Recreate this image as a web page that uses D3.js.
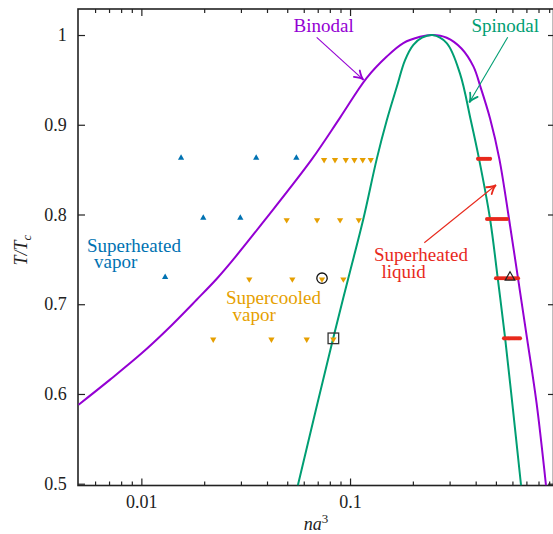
<!DOCTYPE html>
<html><head><meta charset="utf-8">
<script src="https://cdn.jsdelivr.net/npm/d3@7"></script>
<style>body{margin:0;background:#fff}svg{display:block}</style>
</head><body><svg id="c" width="553" height="534"></svg>
<script>
// ---- data ----
const binodalX = [0.005, 0.00708, 0.01, 0.0132, 0.0184, 0.0231, 0.0276, 0.0391, 0.0658, 0.0896, 0.120, 0.150, 0.180, 0.2165, 0.248,
                  0.2906, 0.342, 0.390, 0.4220, 0.4688, 0.5193, 0.578, 0.638, 0.705, 0.783, 0.869];
const binodalT = [0.588, 0.616, 0.645, 0.671, 0.705, 0.729, 0.750, 0.794, 0.862, 0.908, 0.952, 0.976, 0.991, 0.998, 1.0,
                  0.997, 0.985, 0.965, 0.942, 0.907, 0.862, 0.795, 0.729, 0.662, 0.590, 0.498];
const spinodalX = [0.0562, 0.0692, 0.0832, 0.0981, 0.1158, 0.1343, 0.150, 0.1674, 0.1835, 0.2011, 0.2213, 0.248,
                   0.2906, 0.3365, 0.379, 0.4151, 0.4688, 0.5102, 0.553, 0.604, 0.660];
const spinodalT = [0.498, 0.586, 0.663, 0.729, 0.795, 0.862, 0.905, 0.942, 0.972, 0.989, 0.997, 1.0,
                   0.991, 0.957, 0.905, 0.862, 0.795, 0.729, 0.663, 0.582, 0.498];

const vaporHotX = [0.0155, 0.0355, 0.0553, 0.0198, 0.0298, 0.0130];
const vaporHotT = [0.862, 0.862, 0.862, 0.795, 0.795, 0.729];
const vaporCoolX = [0.0751, 0.0847, 0.0954, 0.1049, 0.1150, 0.1257,
                    0.0497, 0.0695, 0.0896, 0.1101,
                    0.0329, 0.0529, 0.0734, 0.0929,
                    0.0221, 0.0420, 0.0620, 0.0832];
const vaporCoolT = [0.862, 0.862, 0.862, 0.862, 0.862, 0.862,
                    0.795, 0.795, 0.795, 0.795,
                    0.729, 0.729, 0.729, 0.729,
                    0.662, 0.662, 0.662, 0.662];
const liquidHotX = [0.4105, 0.4197, 0.4290, 0.4386, 0.4483, 0.4584, 0.4688,
                    0.4535, 0.4634, 0.4737, 0.4843, 0.4951, 0.5062, 0.5174, 0.5290, 0.5408, 0.5529, 0.5652,
                    0.5006, 0.5118, 0.5232, 0.5349, 0.5468, 0.5590, 0.5715, 0.5843, 0.5972, 0.6106, 0.6242, 0.6383,
                    0.5468, 0.5590, 0.5715, 0.5843, 0.5972, 0.6106, 0.6242, 0.6383, 0.6525];
const liquidHotT = [0.862, 0.862, 0.862, 0.862, 0.862, 0.862, 0.862,
                    0.795, 0.795, 0.795, 0.795, 0.795, 0.795, 0.795, 0.795, 0.795, 0.795, 0.795,
                    0.729, 0.729, 0.729, 0.729, 0.729, 0.729, 0.729, 0.729, 0.729, 0.729, 0.729, 0.729,
                    0.662, 0.662, 0.662, 0.662, 0.662, 0.662, 0.662, 0.662, 0.662];
const circlePt = [0.0734, 0.729];
const squarePt = [0.0832, 0.662];
const trianglePt = [0.5843, 0.730];

const xMajor = [0.01, 0.1];
const xMinor = [0.006, 0.007, 0.008, 0.009, 0.02, 0.03, 0.04, 0.05, 0.06, 0.07, 0.08, 0.09,
                0.2, 0.3, 0.4, 0.5, 0.6, 0.7, 0.8, 0.9];
const yTicks = [0.5, 0.6, 0.7, 0.8, 0.9, 1];

// ---- layout ----
const L = 78, R = 553.5, T = 9, B = 485.5;
const svg = d3.select("#c");
const x = d3.scaleLog().domain([0.00497, 0.944]).range([L, R]);
const y = d3.scaleLinear().domain([0.498, 1.029]).range([B, T]);
const FONT = "'Liberation Serif', 'DejaVu Serif', serif";
const C = {purple: "#9400D3", green: "#009E73", blue: "#0072B2", orange: "#E69F00", red: "#E8291C"};

svg.append("defs").append("clipPath").attr("id", "clip")
  .append("rect").attr("x", L).attr("y", T).attr("width", R - L).attr("height", B - T);

// ---- axes ----
function styleAxis(g) {
  g.select(".domain").remove();
  g.selectAll("line").attr("stroke", "#222").attr("stroke-width", 1.2);
  g.selectAll("text").attr("font-family", FONT).attr("font-size", 18).attr("fill", "#222");
}
svg.append("g").attr("transform", `translate(0,${B})`)
  .call(d3.axisBottom(x).tickValues(xMajor).tickFormat(d3.format("")).tickSize(-7).tickPadding(9.7)).call(styleAxis);
svg.append("g").attr("transform", `translate(0,${B})`)
  .call(d3.axisBottom(x).tickValues(xMinor).tickFormat("").tickSize(-4)).call(styleAxis);
svg.append("g").attr("transform", `translate(0,${T})`)
  .call(d3.axisTop(x).tickValues(xMajor).tickFormat("").tickSize(-7)).call(styleAxis);
svg.append("g").attr("transform", `translate(0,${T})`)
  .call(d3.axisTop(x).tickValues(xMinor).tickFormat("").tickSize(-4)).call(styleAxis);
svg.append("g").attr("transform", `translate(${L},0)`)
  .call(d3.axisLeft(y).tickValues(yTicks).tickFormat(d3.format("")).tickSize(-7).tickPadding(11.3)).call(styleAxis);
svg.append("g").attr("transform", `translate(${R},0)`)
  .call(d3.axisRight(y).tickValues(yTicks).tickFormat("").tickSize(-5.5)).call(styleAxis);

svg.append("rect").attr("x", L).attr("y", T).attr("width", R - L).attr("height", B - T)
  .attr("fill", "none").attr("stroke", "#222").attr("stroke-width", 1.6);

// axis titles
const xt = svg.append("text").attr("x", 316).attr("y", 530).attr("text-anchor", "middle")
  .attr("font-family", FONT).attr("font-size", 18).attr("fill", "#222");
xt.append("tspan").attr("font-style", "italic").text("na");
xt.append("tspan").attr("font-size", 13).attr("dy", -7).text("3");
const yt = svg.append("text").attr("transform", "translate(27,250) rotate(-90)").attr("text-anchor", "middle")
  .attr("font-family", FONT).attr("font-size", 18).attr("fill", "#222").attr("font-style", "italic");
yt.append("tspan").text("T/T");
yt.append("tspan").attr("font-size", 13).attr("dy", 4).text("c");

// ---- curves ----
const plot = svg.append("g").attr("clip-path", "url(#clip)");
const line = d3.line().x(d => x(d[0])).y(d => y(d[1])).curve(d3.curveCatmullRom.alpha(0.5));
plot.append("path").datum(binodalX.map((v, i) => [v, binodalT[i]]))
  .attr("d", line).attr("fill", "none").attr("stroke", C.purple).attr("stroke-width", 2);
plot.append("path").datum(spinodalX.map((v, i) => [v, spinodalT[i]]))
  .attr("d", line).attr("fill", "none").attr("stroke", C.green).attr("stroke-width", 2);

// ---- markers ----
const tri = d3.symbol().type(d3.symbolTriangle).size(17);
plot.selectAll(".vh").data(vaporHotX).join("path")
  .attr("d", tri).attr("fill", C.blue)
  .attr("transform", (d, i) => `translate(${x(d)},${y(vaporHotT[i]) - 1})`);
plot.selectAll(".vc").data(vaporCoolX).join("path")
  .attr("d", tri).attr("fill", C.orange)
  .attr("transform", (d, i) => `translate(${x(d)},${y(vaporCoolT[i]) + 1}) rotate(180)`);
plot.selectAll(".lh").data(liquidHotX).join("circle")
  .attr("cx", d => x(d)).attr("cy", (d, i) => y(liquidHotT[i])).attr("r", 2.05).attr("fill", C.red);

plot.append("circle").attr("cx", x(circlePt[0])).attr("cy", y(circlePt[1]))
  .attr("r", 5.2).attr("fill", "none").attr("stroke", "#111").attr("stroke-width", 1.3);
plot.append("rect").attr("x", x(squarePt[0]) - 5.3).attr("y", y(squarePt[1]) - 5.3)
  .attr("width", 10.6).attr("height", 10.6).attr("fill", "none").attr("stroke", "#333").attr("stroke-width", 1.3);
plot.append("path").attr("d", d3.symbol().type(d3.symbolTriangle).size(40)())
  .attr("transform", `translate(${x(trianglePt[0])},${y(trianglePt[1])})`)
  .attr("fill", "none").attr("stroke", "#222").attr("stroke-width", 1.2);

// ---- annotations ----
function label(lines, xs, ys, color) {
  const t = svg.append("text").attr("font-family", FONT).attr("font-size", 19).attr("fill", color);
  lines.forEach((s, i) => t.append("tspan").attr("x", xs[i]).attr("y", ys[i]).text(s));
}
label(["Binodal"], [293.5], [32], C.purple);
label(["Spinodal"], [471.5], [32], C.green);
label(["Superheated", "vapor"], [87, 94], [251.5, 268], C.blue);
label(["Supercooled", "vapor"], [226, 232.5], [304, 321], C.orange);
label(["Superheated", "liquid"], [374, 381.5], [260.5, 277.5], C.red);

function arrow(x1, y1, x2, y2, color) {
  svg.append("line").attr("x1", x1).attr("y1", y1).attr("x2", x2).attr("y2", y2)
    .attr("stroke", color).attr("stroke-width", 1.1);
  const a = Math.atan2(y2 - y1, x2 - x1), len = 10, sp = 0.45;
  const p1 = [x2 - len * Math.cos(a - sp), y2 - len * Math.sin(a - sp)];
  const p2 = [x2 - len * Math.cos(a + sp), y2 - len * Math.sin(a + sp)];
  const q = [x2 - 3 * Math.cos(a), y2 - 3 * Math.sin(a)];
  svg.append("path").attr("d", `M${p1}Q${q} ${x2},${y2}Q${q} ${p2}`)
    .attr("fill", "none").attr("stroke", color).attr("stroke-width", 1.8).attr("stroke-linecap", "round");
}
arrow(316.7, 37.3, 363.5, 79.8, C.purple);
arrow(507.7, 37.3, 469.3, 102.5, C.green);
arrow(424.3, 242.7, 496, 185, C.red);
</script></body></html>
